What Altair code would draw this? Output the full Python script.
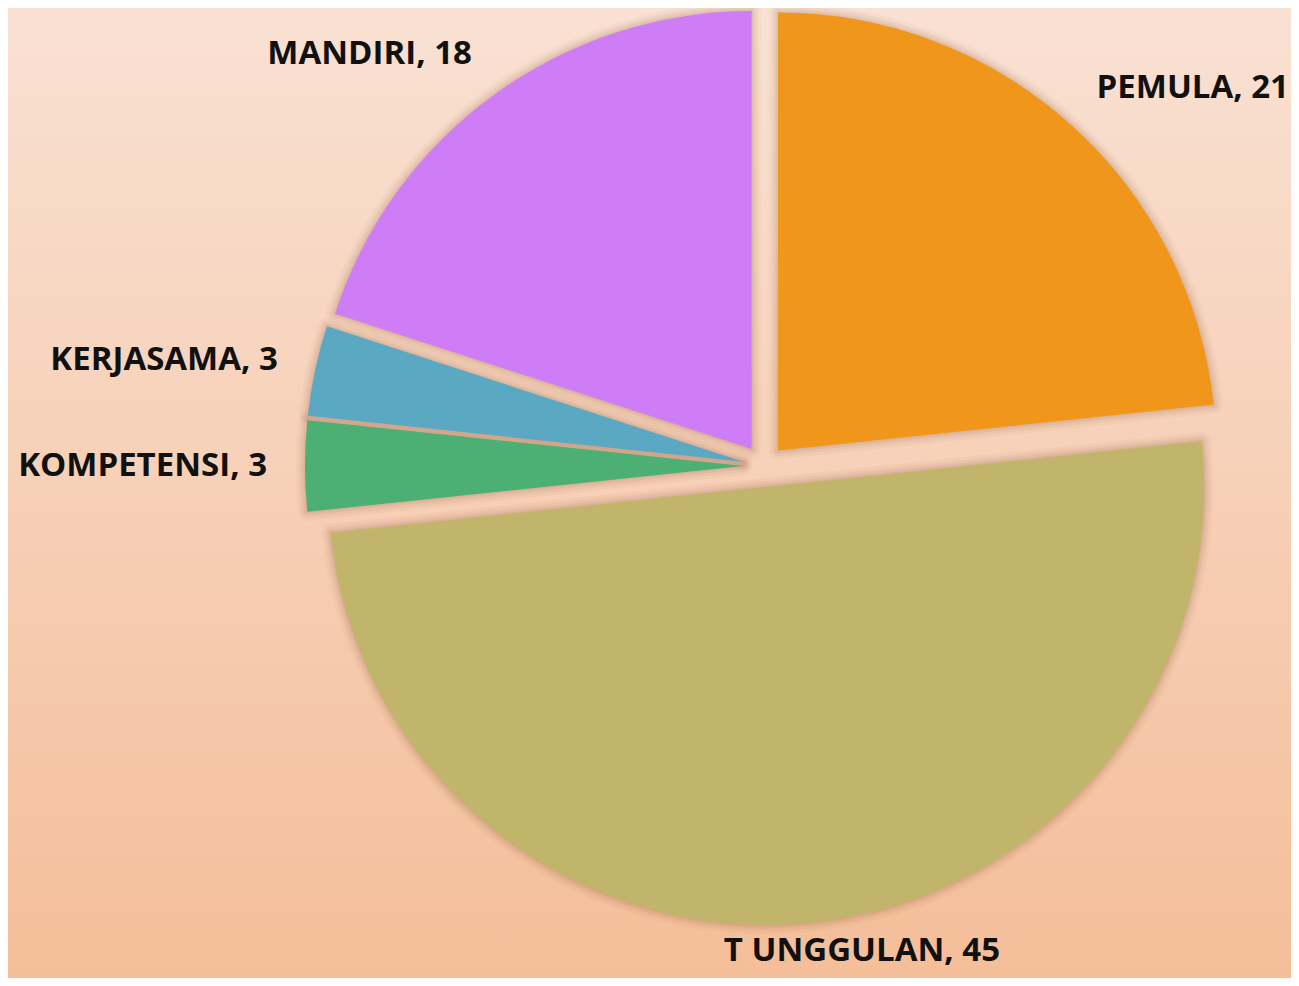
import altair as alt
import pandas as pd

categories = ["PEMULA", "T UNGGULAN", "KOMPETENSI", "KERJASAMA", "MANDIRI"]
values = [21, 45, 3, 3, 18]
colors = ["#F0961A", "#C1B56B", "#4CAF73", "#5BA8C2", "#CF7DF7"]

W, H = 1283, 970
CX, CY = 756, 458
R = 438
EXPLODE = 21
LR = 497

df = pd.DataFrame({"cat": categories, "value": values, "i": list(range(len(categories)))})
df["label"] = [f"{c}, {v}" for c, v in zip(categories, values)]

base = alt.Chart(df).transform_joinaggregate(
    total="sum(value)"
).transform_window(
    cum="sum(value)", sort=[alt.SortField("i")], frame=[None, 0]
).transform_calculate(
    t1="2*PI*datum.cum/datum.total",
).transform_calculate(
    t0="datum.t1 - 2*PI*datum.value/datum.total",
).transform_calculate(
    mid="(datum.t0 + datum.t1)/2",
).transform_calculate(
    s="sin(datum.mid)",
    c="cos(datum.mid)",
).transform_calculate(
    cx=f"{CX} + {EXPLODE}*datum.s",
    cy=f"{CY} - {EXPLODE}*datum.c",
    lx=f"abs(datum.s) <= 0.3 ? {CX} + {LR + 440}*datum.s : {CX} + {LR}*datum.s",
    ly=f"{CY} - {LR}*datum.c - (datum.c > 0 ? 12 : -9)*datum.c",
)

enc = dict(
    x=alt.X("cx:Q", scale=None),
    y=alt.Y("cy:Q", scale=None),
    theta=alt.Theta("t0:Q", scale=None, stack=None),
    theta2=alt.Theta2("t1:Q"),
)

shadows = [
    base.mark_arc(radius=R, fillOpacity=0, stroke="#7a4020", strokeOpacity=op, strokeWidth=sw, strokeJoin="round").encode(**enc)
    for sw, op in [(18, 0.04), (12, 0.05), (7, 0.06), (3, 0.07)]
]
arcs = base.mark_arc(radius=R).encode(
    color=alt.Color("cat:N", scale=alt.Scale(domain=categories, range=colors), legend=None),
    **enc,
)

txt_kw = dict(font="Open Sans", fontWeight="bold", fontSize=33, color="#111111", baseline="middle")
lab_enc = dict(x=alt.X("lx:Q", scale=None), y=alt.Y("ly:Q", scale=None), text="label:N")
lab_left = base.transform_filter("datum.s > 0.3").mark_text(align="left", **txt_kw).encode(**lab_enc)
lab_right = base.transform_filter("datum.s < -0.3").mark_text(align="right", **txt_kw).encode(**lab_enc)
lab_mid = base.transform_filter("abs(datum.s) <= 0.3").mark_text(align="center", **txt_kw).encode(**lab_enc)

bg = alt.Chart(alt.Data(values=[{}])).mark_rect(
    fill=alt.Gradient(
        gradient="linear", x1=0, y1=0, x2=0, y2=1,
        stops=[alt.GradientStop(color="#F9E1D3", offset=0),
               alt.GradientStop(color="#F4BE99", offset=1)],
    )
).encode(x=alt.value(0), x2=alt.value(W), y=alt.value(0), y2=alt.value(H))

chart = alt.layer(bg, *shadows, arcs, lab_left, lab_right, lab_mid).properties(
    width=W, height=H, padding=0, autosize=alt.AutoSizeParams(type="none"),
    background="#F4BE99",
).configure_view(stroke=None)

chart.save("out.html", embed_options={"renderer": "svg", "actions": False})
